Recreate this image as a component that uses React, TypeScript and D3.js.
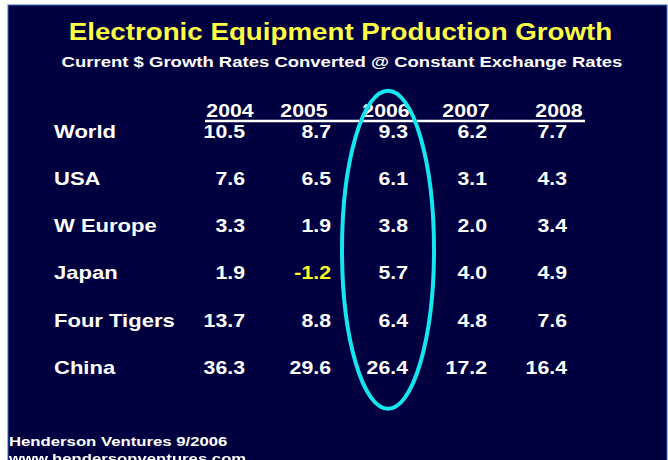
import React from "react";
import * as d3 from "d3";

const title = "Electronic Equipment Production Growth";
const subtitle = "Current $ Growth Rates Converted @ Constant Exchange Rates";
const regions = ["World", "USA", "W Europe", "Japan", "Four Tigers", "China"];
const years = ["2004", "2005", "2006", "2007", "2008"];
const growth2004 = [10.5, 7.6, 3.3, 1.9, 13.7, 36.3];
const growth2005 = [8.7, 6.5, 1.9, -1.2, 8.8, 29.6];
const growth2006 = [9.3, 6.1, 3.8, 5.7, 6.4, 26.4];
const growth2007 = [6.2, 3.1, 2.0, 4.0, 4.8, 17.2];
const growth2008 = [7.7, 4.3, 3.4, 4.9, 7.6, 16.4];
const highlightYear = "2006";
const footer1 = "Henderson Ventures 9/2006";
const footer2 = "www.hendersonventures.com";

const W = 668;
const H = 460;
const FONT = "'Liberation Sans', Arial, Helvetica, sans-serif";

function SText(props: {
  x: number;
  y: number;
  sx: number;
  size: number;
  fill: string;
  anchor?: string;
  children: React.ReactNode;
}) {
  const { x, y, sx, size, fill, anchor = "start", children } = props;
  return (
    <text
      transform={`translate(${x},${y}) scale(${sx},1)`}
      textAnchor={anchor}
      fill={fill}
      fontSize={size}
      fontWeight="bold"
    >
      {children}
    </text>
  );
}

export default function App() {
  const series = [growth2004, growth2005, growth2006, growth2007, growth2008];
  const y = d3.scalePoint<string>().domain(regions).range([137.5, 374]);
  const xValEnd = d3.scaleOrdinal<string, number>().domain(years).range([245, 331, 408, 487, 567]);
  const xHead = d3.scaleOrdinal<string, number>().domain(years).range([230, 304, 386, 466, 559]);

  const yFirst = y(regions[0]) as number;
  const yLast = y(regions[regions.length - 1]) as number;
  const ellCx = xValEnd(highlightYear) - 20;
  const ellCy = (yFirst + yLast) / 2 - 6;

  return (
    <svg
      width={W}
      height={H}
      style={{ position: "fixed", left: 0, top: 0, display: "block" }}
      fontFamily={FONT}
    >
      <rect x={0} y={0} width={W} height={H} fill="#ffffff" />
      <rect x={8} y={5} width={659} height={470} fill="#000040" stroke="#3a6ac8" strokeWidth={1} />

      <SText x={340.5} y={39.5} sx={1.18} size={23.5} fill="#ffff44" anchor="middle">
        {title}
      </SText>
      <SText x={342} y={67.3} sx={1.25} size={14.8} fill="#ffffff" anchor="middle">
        {subtitle}
      </SText>

      {years.map((yr) => (
        <SText key={yr} x={xHead(yr)} y={116.7} sx={1.12} size={19} fill="#ffffff" anchor="middle">
          {yr}
        </SText>
      ))}
      <line x1={205} x2={585} y1={121} y2={121} stroke="#ffffff" strokeWidth={2.5} />

      {regions.map((r, i) => (
        <g key={r}>
          <SText x={54} y={y(r) as number} sx={1.16} size={19} fill="#ffffff">
            {r}
          </SText>
          {years.map((yr, j) => {
            const v = series[j][i];
            return (
              <SText
                key={yr}
                x={xValEnd(yr)}
                y={y(r) as number}
                sx={1.12}
                size={19}
                fill={v < 0 ? "#ffff22" : "#ffffff"}
                anchor="end"
              >
                {d3.format(".1f")(v).replace("−", "-")}
              </SText>
            );
          })}
        </g>
      ))}

      <ellipse cx={ellCx} cy={ellCy} rx={46} ry={159} fill="none" stroke="#14e6ee" strokeWidth={4} />

      <SText x={9} y={446} sx={1.24} size={13.5} fill="#ffffff">
        {footer1}
      </SText>
      <SText x={9} y={463} sx={1.24} size={13.5} fill="#ffffff">
        {footer2}
      </SText>
    </svg>
  );
}
